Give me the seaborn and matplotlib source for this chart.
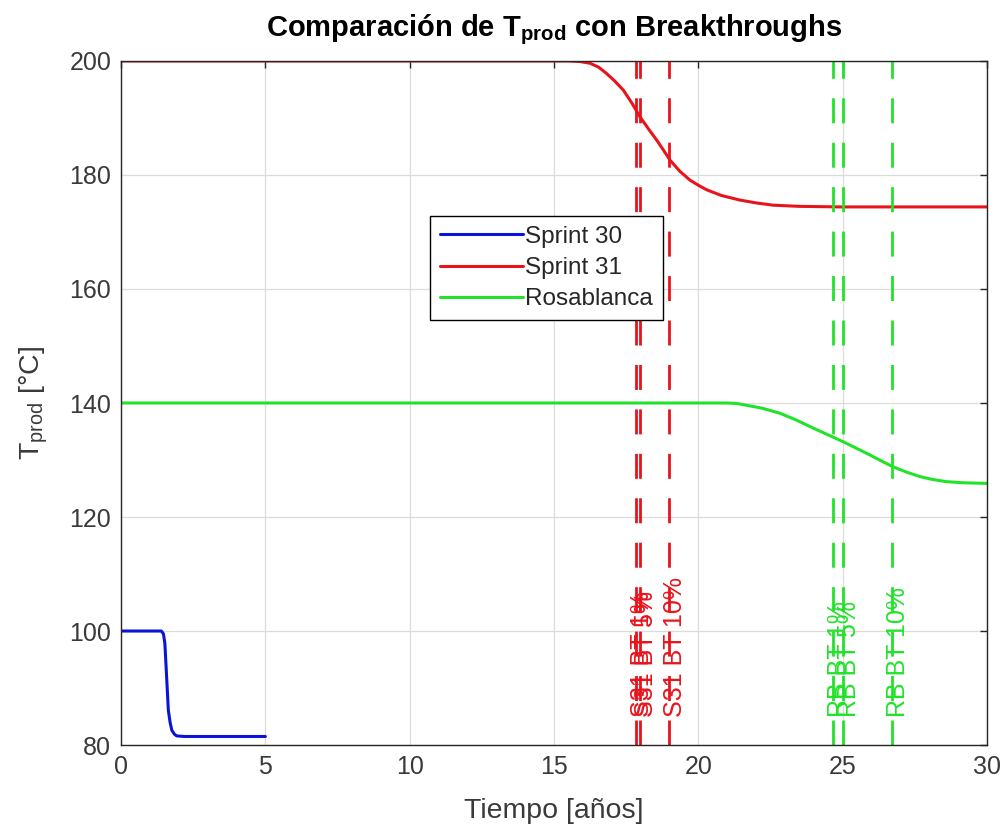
"""
Comparación de T_prod con breakthroughs (Sprint 30 / Sprint 31 / Rosablanca).
"""

import matplotlib
matplotlib.use("Agg")
import matplotlib.pyplot as plt
import pandas as pd
import seaborn as sns

# ---------------------------------------------------------------------------
# Curvas (tiempo en años, temperatura en °C)
t_s30 = [0.0, 1.4, 1.47, 1.52, 1.58, 1.64, 1.70, 1.76, 1.85, 1.93, 2.2, 5.0]
T_s30 = [100.0, 100.0, 99.5, 97.8, 92.0, 86.1, 84.0, 82.6, 81.9, 81.6, 81.5, 81.5]

t_s31 = [0.0, 15.5, 15.9, 16.25, 16.55, 16.82, 17.1, 17.4, 17.7, 17.98, 18.27,
         18.56, 18.8, 19.02, 19.35, 19.71, 20.0, 20.29, 20.8, 21.44, 22.0,
         22.6, 23.5, 24.9, 30.0]
T_s31 = [200.0, 200.0, 199.9, 199.6, 198.9, 197.8, 196.5, 194.9, 192.6, 190.2,
         188.1, 186.1, 184.3, 182.6, 180.7, 179.1, 178.2, 177.4, 176.4, 175.6,
         175.1, 174.7, 174.5, 174.4, 174.4]

t_rb = [0.0, 21.0, 21.35, 21.67, 22.2, 22.83, 23.4, 23.98, 24.5, 25.02, 25.5,
        25.94, 26.35, 26.75, 27.2, 27.67, 28.1, 28.6, 29.2, 30.0]
T_rb = [140.0, 140.0, 139.9, 139.6, 139.1, 138.2, 137.0, 135.6, 134.4, 133.2,
        132.0, 130.9, 129.8, 128.8, 127.9, 127.1, 126.6, 126.2, 126.0, 125.9]

# Breakthroughs (años)
bt_s31 = [17.84, 17.99, 18.98]
bt_rb = [24.66, 25.01, 26.71]
bt_s31_labels = ["S31 BT 1%", "S31 BT 5%", "S31 BT 10%"]
bt_rb_labels = ["RB BT 1%", "RB BT 5%", "RB BT 10%"]

C_BLUE = "#0a14d6"
C_RED = "#e8141c"
C_GREEN = "#22e22a"
C_AX = "#3a3a3a"
FONT = ["Liberation Sans", "DejaVu Sans"]

sns.set_theme(style="whitegrid")
plt.rcParams["font.family"] = FONT
plt.rcParams["mathtext.default"] = "regular"

fig = plt.figure(figsize=(10.05, 8.33), dpi=100)
ax = fig.add_axes([0.1204, 0.1056, 0.8617, 0.8212])

for t, T, c, lab in [(t_s30, T_s30, C_BLUE, "Sprint 30"),
                     (t_s31, T_s31, C_RED, "Sprint 31"),
                     (t_rb, T_rb, C_GREEN, "Rosablanca")]:
    df = pd.DataFrame({"t": t, "T": T})
    sns.lineplot(data=df, x="t", y="T", ax=ax, color=c, lw=2.2,
                 label=lab, sort=False, estimator=None)

for xs, labs, c in [(bt_s31, bt_s31_labels, C_RED), (bt_rb, bt_rb_labels, C_GREEN)]:
    for xv, lab in zip(xs, labs):
        ax.axvline(xv, color=c, lw=2.0, dashes=(9, 7))
        ax.text(xv + 0.2, 85, lab, color=c, rotation=90, ha="center",
                va="bottom", fontsize=18)

ax.set_xlim(0, 30)
ax.set_ylim(80, 200)
ax.set_xticks(range(0, 31, 5))
ax.set_yticks(range(80, 201, 20))
ax.grid(True, color="#dcdcdc", lw=0.9)
ax.set_facecolor("white")
for s in ax.spines.values():
    s.set_color("#262626")
    s.set_linewidth(1.0)
ax.tick_params(direction="in", top=True, right=True, length=5, width=1,
               colors="#262626", labelcolor=C_AX, labelsize=18, pad=7)

ax.set_xlabel("Tiempo [años]", fontsize=20.5, color=C_AX, labelpad=14)
ax.set_ylabel("$T_{prod}$ [°C]", fontsize=20.5, color=C_AX, labelpad=14)
ax.set_title("Comparación de $T_{prod}$ con Breakthroughs", fontsize=21,
             fontweight="bold", color="black", pad=18)

leg = ax.legend(loc="upper left", bbox_to_anchor=(0.357, 0.773), fontsize=17.5,
                frameon=True, fancybox=False, framealpha=1, edgecolor="black",
                handlelength=3.4, handletextpad=0.12, labelspacing=0.38,
                borderpad=0.4, borderaxespad=0)
leg.get_frame().set_linewidth(1.0)

fig.savefig("out.png", dpi=100)
plt.close(fig)
